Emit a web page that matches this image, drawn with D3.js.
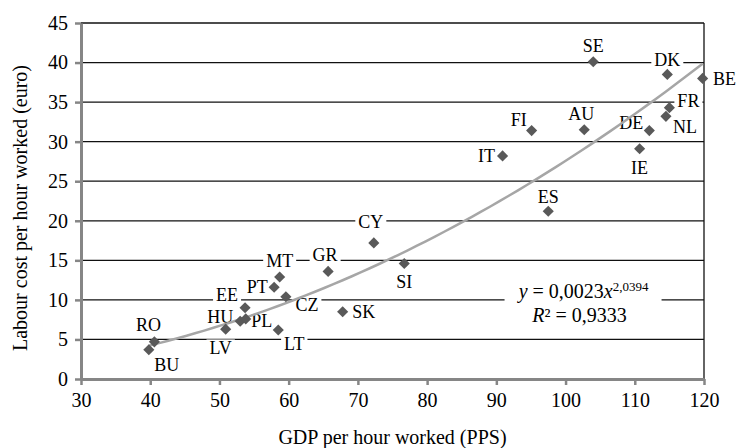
<!DOCTYPE html>
<meta charset="utf-8">
<head>
<script src="https://d3js.org/d3.v7.min.js"></script>
<style>
  body { margin: 0; background: #fff; }
  svg text { font-family: "Liberation Serif", "Times New Roman", Times, serif !important; fill: #000; }
</style>
</head>
<body>
<div id="chart"></div>
<script>

// country codes, GDP per hour worked (PPS) and labour cost per hour (euro)
var codes = ["BE","DK","SE","FR","NL","DE","AU","FI","IE","IT","ES","CY","SI","GR","SK","MT","PT","CZ","EE","HU","PL","LV","LT","RO","BU"];
var gdp   = [119.8,114.7,104.0,115.0,114.5,112.1,102.7,95.1,110.7,90.9,97.5,72.3,76.7,65.7,67.8,58.7,57.9,59.6,53.7,53.0,53.8,50.9,58.5,40.6,39.8];
var cost  = [38.0,38.5,40.1,34.3,33.2,31.4,31.5,31.4,29.1,28.2,21.2,17.2,14.6,13.6,8.5,12.9,11.6,10.4,9.0,7.3,7.6,6.3,6.2,4.7,3.7];

var xTicks = [30,40,50,60,70,80,90,100,110,120];
var yTicks = [0,5,10,15,20,25,30,35,40,45];

// power trendline y = a * x^b, as printed on the chart
var fitA = 0.0023, fitB = 2.0394;
var fitText = ["0,0023", "2,0394", "0,9333"];

// where each label sits relative to its point (px)
var labelOffset = {
  BE:[22,0], DK:[0,-15], SE:[0,-16], FR:[19,-7], NL:[19,10], DE:[-18,-8],
  AU:[-3,-16], FI:[-13,-11], IE:[0,19], IT:[-16,0], ES:[0,-15], CY:[-3,-21],
  SI:[0,18], GR:[-3,-17], SK:[21,0], MT:[0,-16], PT:[-17,-1], CZ:[21,8],
  EE:[-18,-13], HU:[-20,-5], PL:[16,2], LV:[-5,19], LT:[16,14], RO:[-6,-17], BU:[18,15]
};

var data = codes.map(function(c, i) { return {code: c, x: gdp[i], y: cost[i]}; });

var serif = "'Liberation Serif', 'Times New Roman', Times, serif";

var margin = {top: 23, right: 32, bottom: 69, left: 81},
    width = 736 - margin.left - margin.right,
    height = 448 - margin.top - margin.bottom;

var svg = d3.select("#chart")
  .append("svg")
    .attr("width", 736)
    .attr("height", 448)
    .style("font-family", serif)
  .append("g")
    .attr("transform", "translate(" + margin.left + "," + margin.top + ")");

var x = d3.scaleLinear().domain([30, 120]).range([0, width]);
var y = d3.scaleLinear().domain([0, 45]).range([height, 0]);

// gridlines
svg.selectAll(".grid")
  .data(yTicks.filter(function(d) { return d > 0; }))
  .enter().append("line")
    .attr("x1", 0).attr("x2", width)
    .attr("y1", function(d) { return y(d); })
    .attr("y2", function(d) { return y(d); })
    .attr("stroke", "#111")
    .attr("stroke-width", 1.3);

// right frame
svg.append("line")
  .attr("x1", width).attr("x2", width)
  .attr("y1", y(45)).attr("y2", y(0))
  .attr("stroke", "#111")
  .attr("stroke-width", 1.3);

// equation box
var eq = svg.append("g")
  .attr("transform", "translate(" + x(102.6) + "," + y(10) + ")");
eq.append("rect")
  .attr("x", -79).attr("y", -17)
  .attr("width", 157).attr("height", 43)
  .attr("fill", "#fff");
var l1 = eq.append("text")
  .attr("text-anchor", "middle")
  .attr("y", -2)
  .style("font-family", serif)
  .style("font-size", "20px");
l1.append("tspan").style("font-style", "italic").text("y");
l1.append("tspan").text(" = " + fitText[0]);
l1.append("tspan").style("font-style", "italic").text("x");
l1.append("tspan").attr("dy", -7).style("font-size", "13px").text(fitText[1]);
var l2 = eq.append("text")
  .attr("text-anchor", "middle")
  .attr("x", -4)
  .attr("y", 22)
  .style("font-family", serif)
  .style("font-size", "20px");
l2.append("tspan").style("font-style", "italic").text("R");
l2.append("tspan").text("\u00b2 = " + fitText[2]);

// data labels with white boxes
var labels = svg.selectAll(".lab")
  .data(data)
  .enter().append("g")
    .attr("transform", function(d) {
      var o = labelOffset[d.code];
      return "translate(" + (x(d.x) + o[0]) + "," + (y(d.y) + o[1]) + ")";
    });
labels.append("text")
  .attr("text-anchor", "middle")
  .attr("dy", "0.35em")
  .style("font-family", serif)
  .style("font-size", "18px")
  .text(function(d) { return d.code; });
labels.each(function() {
  var g = d3.select(this);
  var b = g.select("text").node().getBBox();
  g.insert("rect", "text")
    .attr("x", b.x - 3).attr("y", b.y + 1)
    .attr("width", b.width + 6).attr("height", b.height - 2)
    .attr("fill", "#fff");
});

// trendline
var fitX = d3.range(0, 61).map(function(i) {
  var lo = d3.min(gdp), hi = d3.max(gdp);
  return lo + (hi - lo) * i / 60;
});
svg.append("path")
  .datum(fitX)
  .attr("fill", "none")
  .attr("stroke", "#a6a6a6")
  .attr("stroke-width", 2.5)
  .attr("d", d3.line()
    .x(function(d) { return x(d); })
    .y(function(d) { return y(fitA * Math.pow(d, fitB)); })
  );

// points
svg.selectAll(".pt")
  .data(data)
  .enter().append("path")
    .attr("d", d3.symbol().type(d3.symbolSquare).size(62))
    .attr("transform", function(d) {
      return "translate(" + x(d.x) + "," + y(d.y) + ") rotate(45)";
    })
    .attr("fill", "#595959");

// axes
var xAxis = svg.append("g")
  .attr("transform", "translate(0," + height + ")")
  .call(d3.axisBottom(x).tickValues(xTicks).tickSize(6).tickSizeOuter(0).tickPadding(8));
var yAxis = svg.append("g")
  .call(d3.axisLeft(y).tickValues(yTicks).tickSize(6).tickSizeOuter(0).tickPadding(7));

[xAxis, yAxis].forEach(function(a) {
  a.attr("font-family", null);
  a.select(".domain").attr("stroke", "#868686").attr("stroke-width", 3);
  a.selectAll(".tick line").attr("stroke", "#868686").attr("stroke-width", 2.5);
  a.selectAll(".tick text")
    .style("font-family", serif)
    .style("font-size", "20px")
    .attr("fill", "#000");
});

// axis titles
svg.append("text")
  .attr("x", width / 2)
  .attr("y", height + 65)
  .attr("text-anchor", "middle")
  .style("font-family", serif)
  .style("font-size", "20px")
  .text("GDP per hour worked (PPS)");

svg.append("text")
  .attr("transform", "rotate(-90)")
  .attr("x", -(208 - margin.top))
  .attr("y", 27 - margin.left)
  .attr("text-anchor", "middle")
  .style("font-family", serif)
  .style("font-size", "20px")
  .text("Labour cost per hour worked (euro)");

</script>
</body>
</html>
